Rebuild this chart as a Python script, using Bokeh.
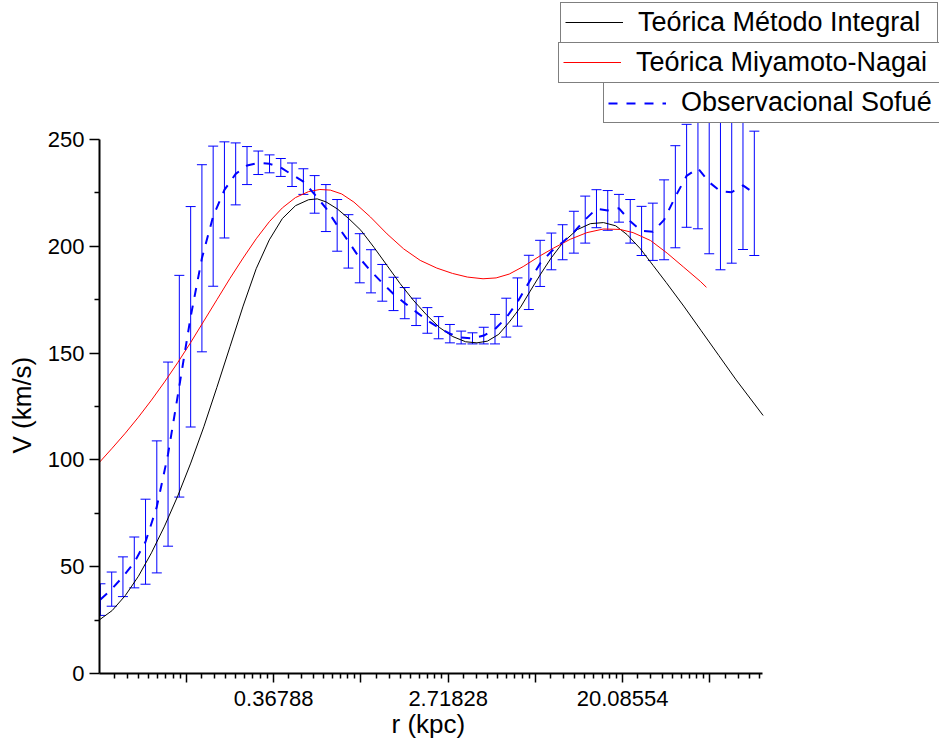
import math
import numpy as np
from bokeh.plotting import figure
from bokeh.models import (ColumnDataSource, Whisker, TeeHead, Legend, LegendItem,
                          FixedTicker, CustomJSTickFormatter, Range1d, Title)
from bokeh.embed import file_html
from bokeh.resources import INLINE

# Radii are given as ln(r), r in kpc; speeds in km/s.
LN_R_INTEGRAL = [-3.00, -2.85, -2.70, -2.55, -2.40, -2.25, -2.10, -1.95, -1.80, -1.65,
                 -1.50, -1.35, -1.20, -1.05, -0.90, -0.75, -0.60, -0.50, -0.40, -0.27,
                 -0.14, 0.00, 0.15, 0.30, 0.45, 0.60, 0.75, 0.90, 1.05, 1.20,
                 1.33, 1.45, 1.58, 1.71, 1.83, 1.94, 2.06, 2.18, 2.32, 2.48,
                 2.63, 2.78, 2.92, 3.05, 3.20, 3.35, 3.50, 3.70, 3.90, 4.10,
                 4.30, 4.61]
V_INTEGRAL = [25.0, 29.5, 36.5, 45.5, 56.5, 69.0, 83.0, 98.5, 115.5, 134.0,
              153.0, 172.0, 189.5, 203.0, 213.0, 219.0, 221.8, 222.2, 220.8, 217.5,
              213.0, 207.5, 199.5, 191.0, 182.5, 174.8, 168.0, 162.0, 157.8, 155.3,
              154.8, 155.6, 158.8, 165.0, 171.5, 179.0, 187.0, 194.5, 202.0, 207.8,
              210.6, 211.1, 209.6, 205.5, 199.0, 191.0, 183.0, 172.0, 160.5, 149.0,
              137.5, 120.8]

LN_R_MN = [-3.00, -2.85, -2.70, -2.55, -2.40, -2.25, -2.10, -1.95, -1.80, -1.65,
           -1.50, -1.35, -1.20, -1.05, -0.90, -0.75, -0.60, -0.47, -0.35, -0.22,
           -0.08, 0.11, 0.30, 0.49, 0.68, 0.87, 1.05, 1.22, 1.40, 1.55,
           1.70, 1.86, 2.06, 2.21, 2.40, 2.59, 2.78, 2.97, 3.12, 3.32,
           3.51, 3.70, 3.89, 3.96]
V_MN = [98.7, 105.5, 112.5, 120.0, 128.0, 136.5, 145.5, 155.0, 165.0, 175.0,
        185.0, 194.5, 203.5, 211.5, 218.0, 222.8, 225.6, 226.6, 226.3, 224.5,
        220.7, 213.7, 205.8, 198.8, 193.4, 189.8, 187.3, 185.6, 184.8, 185.2,
        187.0, 190.5, 195.7, 199.2, 203.3, 206.4, 208.1, 207.9, 206.4, 202.7,
        196.8, 190.2, 183.6, 180.8]

LN_R_SOFUE = [-2.985, -2.856, -2.727, -2.597, -2.468, -2.339, -2.210, -2.081, -1.951, -1.822,
              -1.693, -1.564, -1.435, -1.305, -1.176, -1.047, -0.918, -0.789, -0.659, -0.530,
              -0.401, -0.272, -0.143, -0.013, 0.116, 0.245, 0.374, 0.503, 0.633, 0.762,
              0.891, 1.020, 1.149, 1.279, 1.408, 1.537, 1.666, 1.795, 1.925, 2.054,
              2.183, 2.312, 2.441, 2.571, 2.700, 2.829, 2.958, 3.087, 3.217, 3.346,
              3.475, 3.604, 3.733, 3.863, 3.992, 4.121, 4.250, 4.379, 4.509]
V_SOFUE = [34.6, 39.5, 45.3, 52.0, 61.7, 78.0, 102.7, 134.5, 167.0, 194.4,
           214.1, 226.4, 233.9, 237.8, 239.1, 238.6, 236.9, 233.5, 230.3, 224.3,
           217.9, 209.8, 202.3, 194.4, 188.3, 182.9, 177.7, 173.4, 169.3, 165.3,
           161.9, 159.1, 157.3, 156.9, 158.2, 161.2, 166.6, 173.9, 183.1, 192.0,
           197.6, 201.9, 206.6, 212.5, 217.6, 216.8, 217.8, 211.7, 207.2, 206.8,
           212.4, 223.2, 233.0, 236.5, 230.0, 225.7, 225.3, 228.5, 224.8]
ERR_SOFUE = [7.4, 8.0, 9.3, 11.9, 19.9, 30.9, 43.1, 51.9, 51.6, 43.8,
             32.8, 22.5, 14.5, 8.9, 5.5, 4.2, 4.2, 5.5, 6.0, 8.8,
             11.0, 12.1, 12.5, 11.5, 10.1, 8.6, 7.8, 7.3, 6.4, 6.0,
             5.2, 4.3, 3.0, 2.6, 3.9, 6.9, 9.1, 11.3, 12.7, 10.8,
             8.6, 8.2, 9.8, 11.0, 8.9, 9.3, 6.5, 10.2, 11.5, 13.4,
             18.7, 23.9, 24.1, 28.3, 33.5, 36.7, 33.2, 30.0, 29.1]

LABELS = ["Teórica Método Integral", "Teórica Miyamoto-Nagai", "Observacional Sofué"]
X_TITLE = "r (kpc)"
Y_TITLE = "V (km/s)"
X_TICK_EXPONENTS = [-2, -1, 0, 1, 2, 3, 4]
X_TICK_LABELS = ["", "0.36788", "", "2.71828", "", "20.08554", ""]
Y_TICKS = [0, 50, 100, 150, 200, 250]
Y_MINOR_TICKS = [25, 75, 125, 175, 225]
R_MIN, R_MAX = 0.05, 100.0
V_MAX = 250

FONT = "Liberation Sans"

# The frame spans the whole canvas right of the y axis and above the x axis so
# the legend boxes at the top right are not clipped; axis lines stop at the data bounds.
W, H = 939, 744
LEFT, BOTTOM = 98, 71
AXIS_LEN_X, AXIS_LEN_Y = 664, 534
frame_w, frame_h = W - LEFT, H - BOTTOM
x_end = R_MIN * (R_MAX / R_MIN) ** (frame_w / AXIS_LEN_X)
y_end = V_MAX * frame_h / AXIS_LEN_Y

p = figure(width=W, height=H, x_axis_type="log",
           x_range=Range1d(R_MIN, x_end), y_range=Range1d(0, y_end),
           output_backend="svg", toolbar_location=None,
           min_border_left=LEFT, min_border_right=0,
           min_border_top=0, min_border_bottom=BOTTOM)
p.outline_line_color = None
p.xgrid.visible = False
p.ygrid.visible = False

# theoretical curves
l_int = p.line(np.exp(np.array(LN_R_INTEGRAL)), V_INTEGRAL, line_color="black", line_width=1)
l_mn = p.line(np.exp(np.array(LN_R_MN)), V_MN, line_color="red", line_width=1)

# observed curve with symmetric error bars
v_obs = np.array(V_SOFUE)
e_obs = np.array(ERR_SOFUE)
src = ColumnDataSource(dict(r=np.exp(np.array(LN_R_SOFUE)), v=v_obs,
                            up=v_obs + e_obs, lo=v_obs - e_obs))
l_obs = p.line("r", "v", source=src, line_color="#0000ff", line_width=2, line_dash="9 9")
p.add_layout(Whisker(source=src, base="r", upper="up", lower="lo", dimension="height",
                     line_color="#0000ff", line_width=1,
                     upper_head=TeeHead(size=10, line_color="#0000ff", line_width=1),
                     lower_head=TeeHead(size=10, line_color="#0000ff", line_width=1)))

# x axis: natural-log ticks, labels on odd powers of e
minor = []
for n in range(-3, 5):
    for k in range(1, 9):
        t = math.exp(n) * (1 + k * (math.e - 1) / 9)
        if R_MIN <= t <= R_MAX:
            minor.append(t)
xa = p.xaxis[0]
xa.ticker = FixedTicker(ticks=[math.exp(n) for n in X_TICK_EXPONENTS], minor_ticks=minor)
xa.formatter = CustomJSTickFormatter(args=dict(labels=X_TICK_LABELS), code="""
    const i = Math.round(Math.log(tick)) + 2;
    return (i >= 0 && i < labels.length) ? labels[i] : "";
""")
xa.bounds = (R_MIN, R_MAX)

ya = p.yaxis[0]
ya.ticker = FixedTicker(ticks=Y_TICKS, minor_ticks=Y_MINOR_TICKS)
ya.bounds = (0, V_MAX)

for ax in (xa, ya):
    ax.axis_line_color = "black"
    ax.axis_line_width = 2
    ax.major_tick_line_color = "black"
    ax.minor_tick_line_color = "black"
    ax.major_tick_line_width = 1.5
    ax.minor_tick_line_width = 1.5
    ax.major_tick_in = 0
    ax.minor_tick_in = 0
    ax.major_label_text_font = FONT
    ax.major_label_text_font_size = "22px"
    ax.major_label_text_color = "black"

xa.major_tick_out = 9
xa.minor_tick_out = 5
xa.major_label_standoff = 8
ya.major_tick_out = 10
ya.minor_tick_out = 5
ya.major_label_standoff = 5

# axis titles centred on the drawn axis lines rather than on the frame
title_font = dict(text_font=FONT, text_font_size="26px", text_font_style="normal",
                  text_color="black")
p.add_layout(Title(text=X_TITLE, align="left", offset=292, standoff=0,
                   vertical_align="top", **title_font), "below")
p.add_layout(Title(text=Y_TITLE, align="left", offset=220, standoff=12,
                   vertical_align="top", **title_font), "left")

# one framed legend box per series
legend_pos = [(461, 630.5), (459, 590.5), (504, 550)]
label_widths = [295, 299, 254]
for label, rend, loc, lw in zip(LABELS, (l_int, l_mn, l_obs), legend_pos, label_widths):
    lg = Legend(items=[LegendItem(label=label, renderers=[rend])], location=loc,
                border_line_color="black", border_line_width=1,
                background_fill_color="white", background_fill_alpha=1.0,
                padding=4, margin=0, spacing=0, glyph_width=58, glyph_height=20,
                label_standoff=15, label_width=lw, label_text_font=FONT,
                label_text_font_size="27px", label_text_color="black")
    p.add_layout(lg)

open("out.html", "w").write(file_html(p, INLINE))
